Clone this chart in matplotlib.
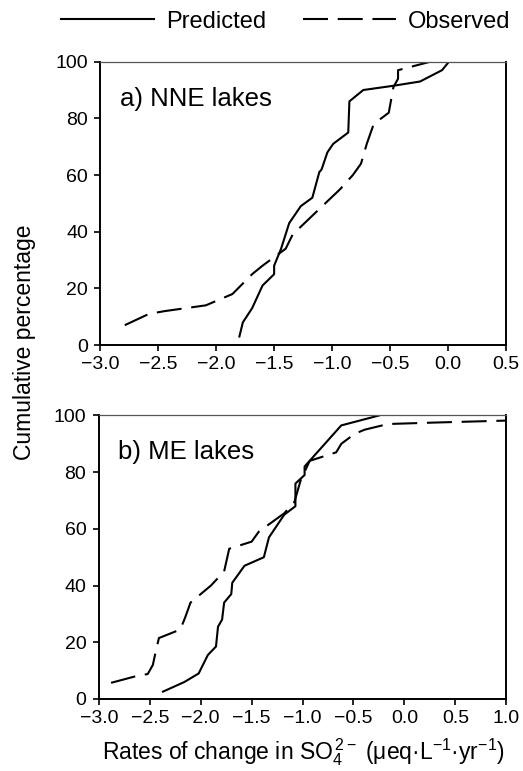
import matplotlib
matplotlib.use("Agg")
import matplotlib.pyplot as plt
from matplotlib.ticker import FuncFormatter

plt.rcParams['font.family'] = ['Liberation Sans', 'DejaVu Sans']
plt.rcParams['mathtext.fontset'] = 'custom'
plt.rcParams['mathtext.rm'] = 'Liberation Sans'
plt.rcParams['mathtext.it'] = 'Liberation Sans:italic'

# a) NNE lakes
x_pred_a = [-1.80, -1.77, -1.69, -1.60, -1.50, -1.50, -1.44, -1.37, -1.27, -1.17, -1.11,
            -1.09, -1.04, -0.99, -0.86, -0.85, -0.73, -0.47, -0.24, -0.05, 0.01]
y_pred_a = [3, 8, 13, 21, 25, 28, 34, 43, 49, 52, 61, 62, 68, 71, 75, 86, 90, 91.5, 93, 97, 100]
x_obs_a = [-2.79, -2.58, -2.44, -2.09, -1.86, -1.69, -1.60, -1.40, -1.34, -1.11, -0.93,
           -0.82, -0.75, -0.70, -0.64, -0.51, -0.47, -0.43, -0.43, -0.15]
y_obs_a = [7, 11, 12, 14, 18, 25, 28, 34, 39, 48, 55, 60, 64, 71, 78, 82, 91, 94, 97, 100]

# b) ME lakes
x_pred_b = [-2.37, -2.16, -2.02, -1.93, -1.85, -1.83, -1.79, -1.77, -1.70, -1.69, -1.57,
            -1.38, -1.33, -1.18, -1.07, -1.07, -0.98, -0.98, -0.62, -0.25]
y_pred_b = [2.6, 6, 9, 15.5, 18.5, 25.5, 28, 34, 37, 41, 47, 50, 57, 65, 68, 76, 79, 82, 96.5, 100]
x_obs_b = [-2.88, -2.62, -2.52, -2.47, -2.44, -2.41, -2.20, -2.15, -2.10, -2.00, -1.90,
           -1.77, -1.72, -1.50, -1.43, -1.18, -1.08, -1.02, -0.93, -0.67, -0.62, -0.49,
           -0.39, -0.16, 0.29, 1.0]
y_obs_b = [5.7, 8.2, 8.8, 12, 17, 21.5, 24.5, 29, 34, 37, 40, 45, 53, 55.5, 59, 65.5,
           69.5, 77, 84, 87, 90, 93.5, 95, 97, 97.5, 98.2]

panels = [
    ("a) NNE lakes", x_pred_a, y_pred_a, x_obs_a, y_obs_a, (-3.0, 0.5)),
    ("b) ME lakes", x_pred_b, y_pred_b, x_obs_b, y_obs_b, (-3.0, 1.0)),
]

fig = plt.figure(figsize=(5.23, 7.71), dpi=100)
ax_a = fig.add_axes([0.192, 0.5525, 0.775, 0.3675])
ax_b = fig.add_axes([0.189, 0.0934, 0.779, 0.3677])

lw = 1.5
dash = (18 / lw, 7 / lw)
fmt = FuncFormatter(lambda v, p: ("%.1f" % v).replace("-", "\u2212"))

for ax, (title, xp, yp, xo, yo, xlim) in zip([ax_a, ax_b], panels):
    lp, = ax.plot(xp, yp, color="black", lw=lw, label="Predicted")
    lo, = ax.plot(xo, yo, color="black", lw=lw, dashes=dash, label="Observed")
    ax.set_xlim(*xlim)
    ax.set_ylim(0, 100)
    ax.set_yticks([0, 20, 40, 60, 80, 100])
    ax.set_xticks([v / 2 for v in range(int(xlim[0] * 2), int(xlim[1] * 2) + 1)])
    ax.xaxis.set_major_formatter(fmt)
    ax.tick_params(direction="out", length=4, width=1.2, labelsize=14,
                   top=False, right=False)
    ax.tick_params(axis="y", pad=5)
    ax.tick_params(axis="x", pad=4)
    for s in ["left", "bottom", "right"]:
        ax.spines[s].set_linewidth(1.4)
    ax.spines["top"].set_linewidth(0.9)
    ax.spines["top"].set_color("#555555")
    ax.text(0.048, 0.845, title, transform=ax.transAxes, fontsize=18.5, va="baseline")

fig.legend([lp, lo], ["Predicted", "Observed"], loc="center",
           bbox_to_anchor=(0.546, 0.972), ncol=2, frameon=False, fontsize=17,
           handlelength=3.95, handletextpad=0.5, columnspacing=1.55)

fig.text(0.046, 0.556, "Cumulative percentage", rotation=90, fontsize=16.5,
         ha="center", va="center")
fig.text(0.580, 0.024,
         "Rates of change in SO$_4^{\\,2\u2212}$ (\u03bceq\u00b7L$^{\u22121}$\u00b7yr$^{\u22121}$)",
         fontsize=16.5, ha="center", va="center")

fig.savefig("out.png", dpi=100)
